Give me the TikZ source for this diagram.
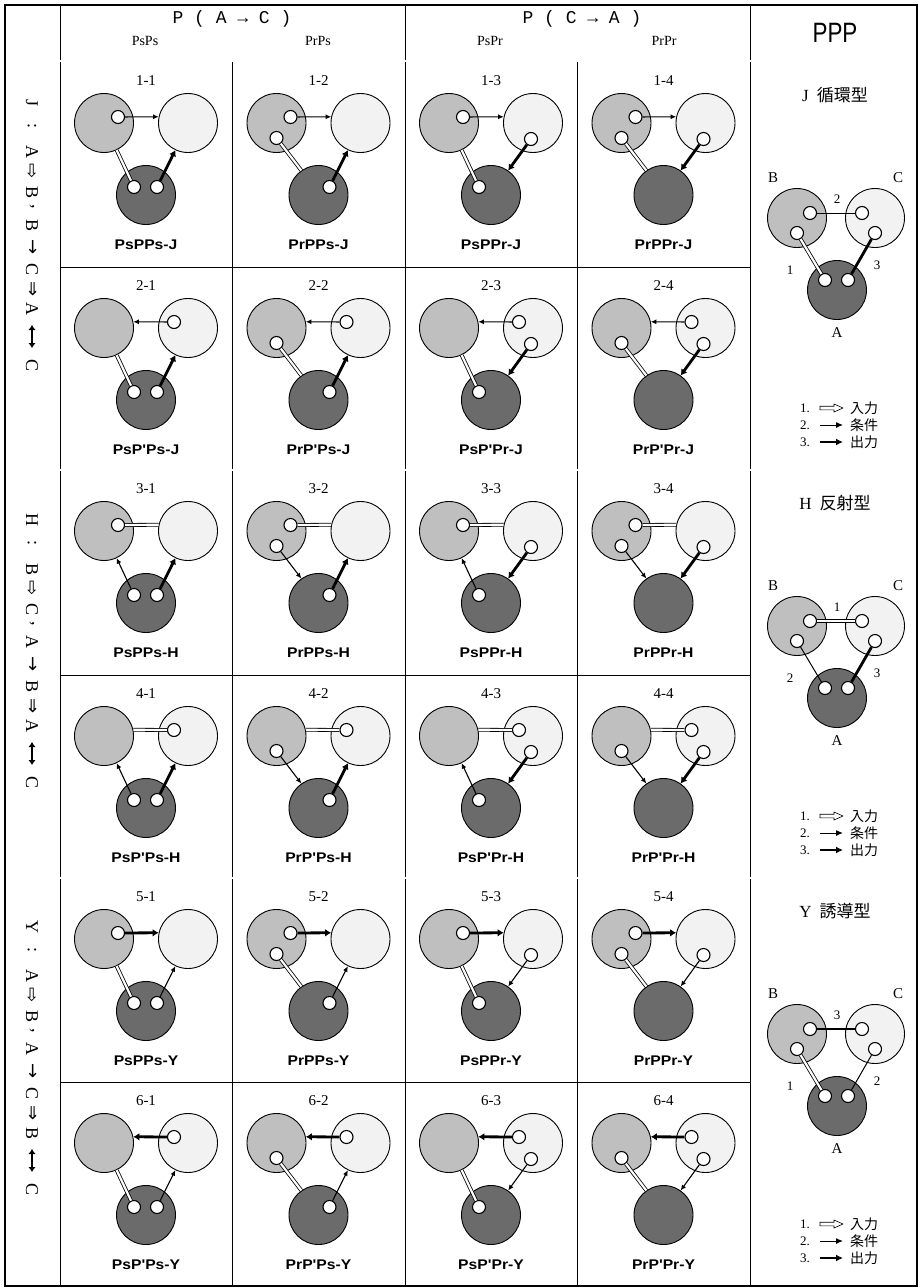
\documentclass[tikz,border=0pt]{standalone}
\usepackage{fontspec}
\setmainfont{Liberation Serif}
\newfontfamily\cjkfont{Noto Sans CJK JP}
\newfontfamily\djvfont{DejaVu Sans}
\newfontfamily\lsansfont{Liberation Sans}
\newfontfamily\lmonofont{Liberation Mono}
\usetikzlibrary{arrows.meta}
\newcommand\fs[1]{\fontsize{#1}{#1}\selectfont}
\definecolor{cB}{gray}{0.75}
\definecolor{cC}{gray}{0.95}
\definecolor{cA}{gray}{0.42}
\tikzset{
 bigc/.style={circle, draw=black, line width=0.9pt, minimum size=59pt, inner sep=0pt},
 circB/.style={bigc, fill=cB},
 circC/.style={bigc, fill=cC},
 circA/.style={bigc, fill=cA},
 port/.style={circle, draw=black, line width=1.1pt, fill=white, minimum size=13pt, inner sep=0pt},
 linkIn/.style={draw=black, line width=0.8pt, double=white, double distance=2.2pt},
 linkCond/.style={draw=black, line width=1.1pt, -{Latex[length=5.5pt,width=5pt]}},
 linkOut/.style={draw=black, line width=2.8pt, -{Latex[length=6pt,width=7.5pt]}},
 legIn/.style={linkIn},
 legCond/.style={draw=black, line width=1pt},
 legOut/.style={draw=black, line width=2.8pt},
 JBA/.style={linkIn}, JBC/.style={linkCond}, JCA/.style={linkOut},
 HBA/.style={linkCond}, HBC/.style={linkIn}, HCA/.style={linkOut},
 YBA/.style={linkIn}, YBC/.style={linkOut}, YCA/.style={linkCond},
 lab/.style={font=\fs{15}, inner sep=0pt},
 nm/.style={font=\lsansfont\bfseries\fs{14}, inner sep=0pt},
 sl/.style={font=\fs{18}, rotate=-90, inner sep=0pt},
 sa/.style={font=\djvfont\fs{18}, rotate=-90, inner sep=0pt},
 sthick/.style={line width=2.6pt, {Latex[length=5pt,width=7.5pt]}-{Latex[length=5pt,width=7.5pt]}},
 hdr/.style={font=\lmonofont\fs{18}, inner sep=0pt},
 sub/.style={font=\fs{14}, inner sep=0pt},
 ttl/.style={font=\fs{17}, inner sep=0pt},
 abc/.style={font=\fs{15}, inner sep=0pt},
 num/.style={font=\fs{13}, inner sep=0pt},
 lgn/.style={font=\fs{13}, inner sep=0pt},
 lgk/.style={font=\cjkfont\fs{14}, inner sep=0pt},
 grid/.style={draw=black, line width=0.8pt},
 dbl/.style={draw=black, line width=0.6pt, double=white, double distance=1.3pt},
}
% cell: #1 cx, #2 top, #3 id, #4 label, #5 name, #6 s/r, #7 p/q, #8 s/r, #9 type
\newcommand\cellfig[9]{%
 \node[lab] (L#3) at (#1,#2+19) {#4};
 \node[circB] (B#3) at (#1-42,#2+61) {};
 \node[circC] (C#3) at (#1+42,#2+61) {};
 \node[circA] (A#3) at (#1,#2+133) {};
 \node[nm] (N#3) at (#1,#2+183) {\scalebox{1.12}[1]{#5}};
 \if#6s
   \node[port] (pBA#3) at (#1-12,#2+125) {};
   \draw[#9BA] (pBA#3) -- (B#3.-65);
 \else
   \node[port] (pBA#3) at (#1-42,#2+76) {};
   \draw[#9BA] (pBA#3) -- (A#3.125);
 \fi
 \if#7p
   \node[port] (pBC#3) at (#1-28,#2+55) {};
   \draw[#9BC] (pBC#3) -- (C#3.168);
 \else
   \node[port] (pBC#3) at (#1+28,#2+55) {};
   \draw[#9BC] (pBC#3) -- (B#3.12);
 \fi
 \if#8s
   \node[port] (pCA#3) at (#1+11,#2+125) {};
   \draw[#9CA] (pCA#3) -- (C#3.245);
 \else
   \node[port] (pCA#3) at (#1+40,#2+77) {};
   \draw[#9CA] (pCA#3) -- (A#3.55);
 \fi
}
% side label: #1 y0, #2 letter, #3..#8 letters
\newcommand\sidelab[8]{%
 \node[sl] (#2s1) at (32,#1) {#2};
 \node[sl] (#2s2) at (32,#1+23) {:};
 \node[sl] (#2s3) at (32,#1+49) {#3};
 \node[sa] (#2s4) at (32,#1+68) {⇨};
 \node[sl] (#2s5) at (32,#1+89) {#4};
 \node[sl] (#2s6) at (32,#1+104) {,};
 \node[sl] (#2s7) at (32,#1+122) {#5};
 \node[sa] (#2s8) at (32,#1+144) {→};
 \node[sl] (#2s9) at (32,#1+166) {#6};
 \node[sa] (#2s10) at (32,#1+186) {⇒};
 \node[sl] (#2s11) at (32,#1+206) {#7};
 \coordinate (#2t1) at (32,#1+222);
 \coordinate (#2t2) at (32,#1+245);
 \draw[sthick] (#2t1) -- (#2t2);
 \node[sl] (#2s13) at (32,#1+262) {#8};
}
% PPP diagram: #1 T, #2 letter, #3 kanji, #4 BC, #5 BA, #6 CA styles, #7 #8 #9 numbers
\newcommand\pppfig[9]{%
 \node[ttl] (T#2) at (835,#1+33) {#2\hspace{8pt}{\cjkfont #3}};
 \node[circB] (LB#2) at (797,#1+156) {};
 \node[circC] (LC#2) at (875,#1+156) {};
 \node[circA] (LA#2) at (837,#1+228) {};
 \node[abc] (nB#2) at (773,#1+116) {B};
 \node[abc] (nC#2) at (898,#1+116) {C};
 \node[abc] (nA#2) at (837,#1+271) {A};
 \node[port] (LBu#2) at (810,#1+151) {};
 \node[port] (LBl#2) at (797,#1+171) {};
 \node[port] (LCu#2) at (862,#1+151) {};
 \node[port] (LCl#2) at (875,#1+171) {};
 \node[port] (LAl#2) at (825,#1+218) {};
 \node[port] (LAr#2) at (848,#1+218) {};
 \draw[#4] (LBu#2) -- (LCu#2);
 \draw[#5] (LBl#2) -- (LAl#2);
 \draw[#6] (LCl#2) -- (LAr#2);
 \node[num] (m1#2) at (837,#1+137) {#7};
 \node[num] (m2#2) at (790,#1+208) {#8};
 \node[num] (m3#2) at (877,#1+203) {#9};
}
\newcommand\ppplegend[2]{%
 \node[lgn, anchor=east] (g1#2) at (810,#1+346) {1.};
 \path[draw=black, fill=white, line width=0.6pt] (820,#1+344.2) -- (834,#1+344.2) -- (834,#1+342) -- (843,#1+346) -- (834,#1+350) -- (834,#1+347.8) -- (820,#1+347.8) -- cycle;
 \node[lgk, anchor=west] (k1#2) at (850,#1+346) {入力};
 \node[lgn, anchor=east] (g2#2) at (810,#1+363) {2.};
 \coordinate (a2#2) at (820,#1+363);
 \coordinate (b2#2) at (843,#1+363);
 \draw[line width=1pt, -{Latex[length=7pt,width=6pt]}] (a2#2) -- (b2#2);
 \node[lgk, anchor=west] (k2#2) at (850,#1+363) {条件};
 \node[lgn, anchor=east] (g3#2) at (810,#1+380) {3.};
 \coordinate (a3#2) at (820,#1+380);
 \coordinate (b3#2) at (843,#1+380);
 \draw[line width=2.2pt, -{Latex[length=7pt,width=7pt]}] (a3#2) -- (b3#2);
 \node[lgk, anchor=west] (k3#2) at (850,#1+380) {出力};
}
\begin{document}
\begin{tikzpicture}[x=1pt,y=-1pt]
\useasboundingbox (0,0) rectangle (920,1288);
\fill[white] (0,0) rectangle (920,1288);
% grid
\draw[grid] (232,62) -- (232,1286);
\draw[grid] (577,62) -- (577,1286);
\draw[grid] (405,5) -- (405,1286);
\draw[grid, line width=1pt] (60,5) -- (60,1286);
\draw[grid, line width=1pt] (750,5) -- (750,1286);
\draw[grid] (60,267) -- (750,267);
\draw[grid] (60,675) -- (750,675);
\draw[grid] (60,1082) -- (750,1082);
\draw[dbl] (5,61) -- (917,61);
\draw[dbl] (5,470) -- (917,470);
\draw[dbl] (5,878) -- (917,878);
\draw[draw=black, line width=1.2pt] (5,5) rectangle (917,1286);
% header
\node[hdr] (h1) at (232,19) {P ( A → C )};
\node[sub] (h1a) at (145,41) {PsPs};
\node[sub] (h1b) at (318,41) {PrPs};
\node[hdr] (h2) at (582,19) {P ( C → A )};
\node[sub] (h2a) at (490,41) {PsPr};
\node[sub] (h2b) at (664,41) {PrPr};
\node[font=\lsansfont\fs{28}, inner sep=0pt] (h3) at (835,33) {\scalebox{0.8}[1]{PPP}};
% side labels
\sidelab{103}{J}{A}{B}{B}{C}{A}{C}
\sidelab{520}{H}{B}{C}{A}{B}{A}{C}
\sidelab{927}{Y}{A}{B}{A}{C}{B}{C}
% cells
\cellfig{146}{62}{11}{1-1}{PsPPs-J}{s}{p}{s}{J}
\cellfig{318.5}{62}{12}{1-2}{PrPPs-J}{r}{p}{s}{J}
\cellfig{491}{62}{13}{1-3}{PsPPr-J}{s}{p}{r}{J}
\cellfig{663.5}{62}{14}{1-4}{PrPPr-J}{r}{p}{r}{J}
\cellfig{146}{267}{21}{2-1}{PsP'Ps-J}{s}{q}{s}{J}
\cellfig{318.5}{267}{22}{2-2}{PrP'Ps-J}{r}{q}{s}{J}
\cellfig{491}{267}{23}{2-3}{PsP'Pr-J}{s}{q}{r}{J}
\cellfig{663.5}{267}{24}{2-4}{PrP'Pr-J}{r}{q}{r}{J}
\cellfig{146}{470}{31}{3-1}{PsPPs-H}{s}{p}{s}{H}
\cellfig{318.5}{470}{32}{3-2}{PrPPs-H}{r}{p}{s}{H}
\cellfig{491}{470}{33}{3-3}{PsPPr-H}{s}{p}{r}{H}
\cellfig{663.5}{470}{34}{3-4}{PrPPr-H}{r}{p}{r}{H}
\cellfig{146}{675}{41}{4-1}{PsP'Ps-H}{s}{q}{s}{H}
\cellfig{318.5}{675}{42}{4-2}{PrP'Ps-H}{r}{q}{s}{H}
\cellfig{491}{675}{43}{4-3}{PsP'Pr-H}{s}{q}{r}{H}
\cellfig{663.5}{675}{44}{4-4}{PrP'Pr-H}{r}{q}{r}{H}
\cellfig{146}{878}{51}{5-1}{PsPPs-Y}{s}{p}{s}{Y}
\cellfig{318.5}{878}{52}{5-2}{PrPPs-Y}{r}{p}{s}{Y}
\cellfig{491}{878}{53}{5-3}{PsPPr-Y}{s}{p}{r}{Y}
\cellfig{663.5}{878}{54}{5-4}{PrPPr-Y}{r}{p}{r}{Y}
\cellfig{146}{1082}{61}{6-1}{PsP'Ps-Y}{s}{q}{s}{Y}
\cellfig{318.5}{1082}{62}{6-2}{PrP'Ps-Y}{r}{q}{s}{Y}
\cellfig{491}{1082}{63}{6-3}{PsP'Pr-Y}{s}{q}{r}{Y}
\cellfig{663.5}{1082}{64}{6-4}{PrP'Pr-Y}{r}{q}{r}{Y}
% PPP column
\pppfig{62}{J}{循環型}{legCond}{legIn}{legOut}{2}{1}{3}
\ppplegend{62}{J}
\pppfig{470}{H}{反射型}{legIn}{legCond}{legOut}{1}{2}{3}
\ppplegend{470}{H}
\pppfig{878}{Y}{誘導型}{legOut}{legIn}{legCond}{3}{1}{2}
\ppplegend{878}{Y}
\end{tikzpicture}
\end{document}
